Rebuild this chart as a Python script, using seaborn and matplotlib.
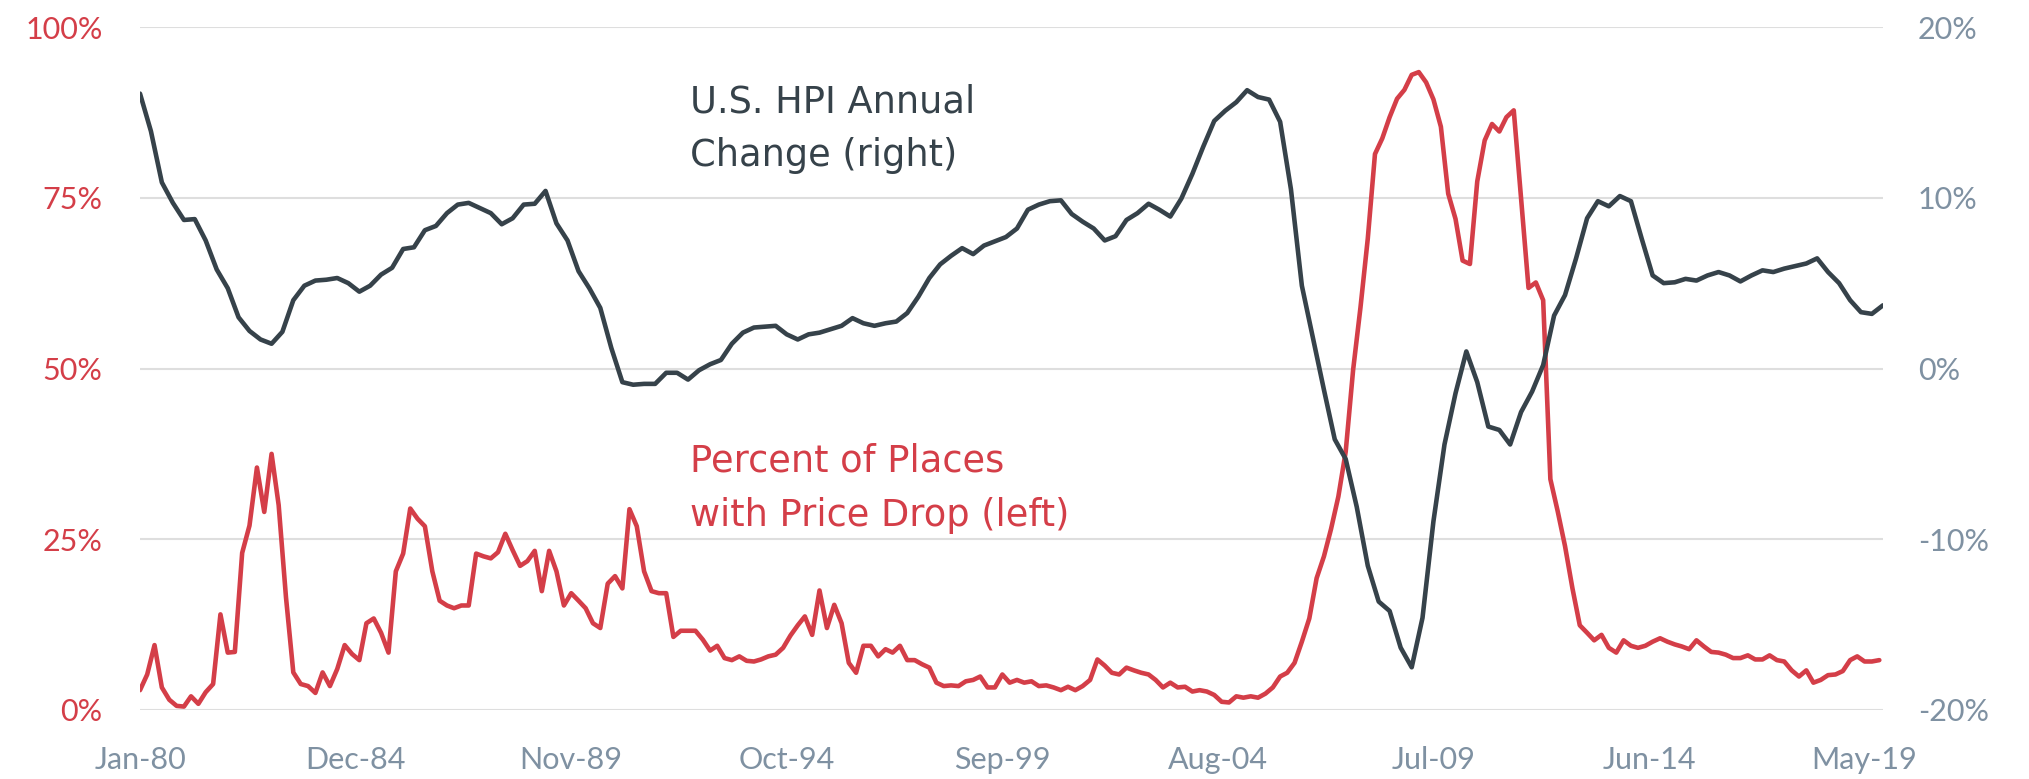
import pandas as pd
import matplotlib
matplotlib.use("Agg")
import matplotlib.pyplot as plt
import matplotlib.dates as mdates
from matplotlib.ticker import FuncFormatter, FixedLocator
import seaborn as sns

# U.S. HPI annual change (%), quarterly from Jan-1980 (right axis)
hpi_change = [
    16.1, 13.9, 10.9, 9.7, 8.7, 8.75, 7.5, 5.8, 4.7, 3.0,
    2.2, 1.7, 1.45, 2.15, 4.0, 4.85, 5.15, 5.2, 5.3, 5.0,
    4.5, 4.85, 5.5, 5.9, 7.0, 7.1, 8.1, 8.35, 9.1, 9.6,
    9.7, 9.4, 9.1, 8.45, 8.8, 9.6, 9.65, 10.4, 8.5, 7.5,
    5.7, 4.7, 3.55, 1.2, -0.8, -0.95, -0.9, -0.9, -0.25, -0.25,
    -0.65, -0.1, 0.25, 0.5, 1.45, 2.1, 2.4, 2.45, 2.5, 2.0,
    1.7, 2.0, 2.1, 2.3, 2.5, 2.95, 2.65, 2.5, 2.65, 2.75,
    3.25, 4.2, 5.3, 6.1, 6.6, 7.05, 6.7, 7.2, 7.45, 7.7,
    8.2, 9.3, 9.6, 9.8, 9.85, 9.05, 8.6, 8.2, 7.5, 7.75,
    8.7, 9.1, 9.65, 9.3, 8.9, 9.95, 11.4, 13.0, 14.5, 15.1,
    15.6, 16.3, 15.9, 15.75, 14.45, 10.5, 4.85, 1.8, -1.25, -4.15,
    -5.3, -8.1, -11.55, -13.65, -14.2, -16.35, -17.5, -14.6, -8.95, -4.45,
    -1.45, 1.0, -0.8, -3.4, -3.6, -4.45, -2.55, -1.35, 0.2, 3.1,
    4.3, 6.45, 8.8, 9.8, 9.5, 10.1, 9.8, 7.6, 5.45, 5.0,
    5.05, 5.25, 5.15, 5.45, 5.65, 5.45, 5.1, 5.45, 5.75, 5.65,
    5.85, 6.0, 6.15, 6.45, 5.65, 5.0, 4.0, 3.3, 3.2, 3.7,
]

# Percent of places with a price drop (%), every two months from Jan-1980 (left axis)
pct_drop = [
    2.9, 5.2, 9.5, 3.3, 1.5, 0.6, 0.5, 2.0, 0.9, 2.6,
    3.8, 14.0, 8.4, 8.5, 23.0, 27.0, 35.5, 29.0, 37.5, 30.0,
    16.5, 5.5, 3.8, 3.5, 2.5, 5.5, 3.5, 6.0, 9.5, 8.2,
    7.3, 12.7, 13.4, 11.3, 8.4, 20.3, 22.9, 29.5, 28.0, 26.9,
    20.3, 16.0, 15.3, 14.9, 15.3, 15.3, 22.9, 22.5, 22.2, 23.1,
    25.8, 23.4, 21.1, 21.8, 23.3, 17.4, 23.3, 20.3, 15.3, 17.1,
    16.0, 14.9, 12.7, 12.0, 18.5, 19.6, 17.8, 29.4, 26.9, 20.3,
    17.4, 17.1, 17.1, 10.7, 11.6, 11.6, 11.6, 10.3, 8.7, 9.4,
    7.6, 7.3, 7.85, 7.2, 7.1, 7.4, 7.85, 8.1, 9.1, 10.9,
    12.4, 13.7, 11.0, 17.5, 12.0, 15.4, 12.7, 6.9, 5.45, 9.4,
    9.4, 7.85, 8.9, 8.4, 9.4, 7.3, 7.3, 6.7, 6.2, 4.0,
    3.5, 3.6, 3.5, 4.2, 4.4, 4.9, 3.3, 3.3, 5.2, 4.0,
    4.4, 4.0, 4.2, 3.5, 3.6, 3.3, 2.9, 3.4, 2.9, 3.5,
    4.4, 7.4, 6.5, 5.45, 5.2, 6.2, 5.8, 5.45, 5.2, 4.4,
    3.3, 4.0, 3.3, 3.4, 2.7, 2.9, 2.7, 2.2, 1.2, 1.1,
    2.0, 1.8, 2.0, 1.8, 2.4, 3.3, 4.9, 5.45, 6.9, 10.0,
    13.4, 19.3, 22.5, 26.5, 31.25, 37.8, 49.8, 58.9, 69.0, 81.4,
    83.7, 86.8, 89.5, 90.8, 93.0, 93.4, 91.9, 89.4, 85.4, 75.6,
    71.9, 65.8, 65.3, 77.4, 83.4, 85.8, 84.7, 86.8, 87.8, 74.9,
    61.8, 62.6, 60.0, 33.8, 29.1, 24.0, 17.8, 12.4, 11.3, 10.2,
    11.0, 9.1, 8.4, 10.2, 9.4, 9.1, 9.4, 10.0, 10.5, 10.0,
    9.6, 9.3, 8.9, 10.2, 9.3, 8.5, 8.4, 8.1, 7.6, 7.6,
    8.0, 7.4, 7.4, 8.0, 7.3, 7.1, 5.8, 4.9, 5.8, 4.0,
    4.4, 5.1, 5.2, 5.7, 7.3, 7.85, 7.1, 7.1, 7.3,
]

hpi_dates = pd.date_range("1980-01-01", periods=len(hpi_change), freq="3MS")
drop_dates = pd.date_range("1980-01-01", periods=len(pct_drop), freq="2MS")

# x tick labels every 59 months: Jan-80 ... May-19
tick_dates = pd.date_range("1980-01-01", periods=9, freq="59MS")
left_ticks = [0, 25, 50, 75, 100]
right_ticks = [-20, -10, 0, 10, 20]

RED = "#D43E48"
DARK = "#36424A"
GREY = "#7F91A2"

sns.set_theme(style="white")
plt.rcParams["font.family"] = ["Lato", "DejaVu Sans"]

fig = plt.figure(figsize=(20.29, 7.79), dpi=100)
ax = fig.add_axes([0.069, 0.0886, 0.859, 0.8767])
ax2 = ax.twinx()

sns.lineplot(x=drop_dates, y=pct_drop, ax=ax, color=RED, linewidth=3.3)
sns.lineplot(x=hpi_dates, y=hpi_change, ax=ax2, color=DARK, linewidth=3.3)

ax.set_ylim(0, 100)
ax2.set_ylim(-20, 20)
ax.set_xlim(pd.Timestamp("1980-01-01"), pd.Timestamp("2019-10-01"))

ax.yaxis.set_major_locator(FixedLocator(left_ticks))
ax2.yaxis.set_major_locator(FixedLocator(right_ticks))
ax.yaxis.set_major_formatter(FuncFormatter(lambda v, p: f"{v:.0f}%"))
ax2.yaxis.set_major_formatter(FuncFormatter(lambda v, p: f"{v:.0f}%"))
ax.xaxis.set_major_locator(FixedLocator(mdates.date2num(tick_dates)))
ax.xaxis.set_major_formatter(mdates.DateFormatter("%b-%y"))

ax.yaxis.grid(True, color="#DEDEDE", linewidth=1.5)
ax.xaxis.grid(False)
ax2.grid(False)
for a in (ax, ax2):
    for s in a.spines.values():
        s.set_visible(False)
    a.set_xlabel("")
    a.set_ylabel("")

ax.tick_params(axis="y", length=0, pad=27, labelsize=22, labelcolor=RED)
ax2.tick_params(axis="y", length=0, pad=25, labelsize=22, labelcolor=GREY)
ax.tick_params(axis="x", length=0, pad=26, labelsize=22, labelcolor=GREY)

ax.text(0.3155, 0.918, "U.S. HPI Annual\nChange (right)", transform=ax.transAxes,
        ha="left", va="top", fontsize=26.5, color=DARK, linespacing=1.6,
        family=["DejaVu Sans"])
ax.text(0.3155, 0.391, "Percent of Places\nwith Price Drop (left)", transform=ax.transAxes,
        ha="left", va="top", fontsize=26.5, color=RED, linespacing=1.6,
        family=["DejaVu Sans"])

fig.savefig("out.png", dpi=100)
